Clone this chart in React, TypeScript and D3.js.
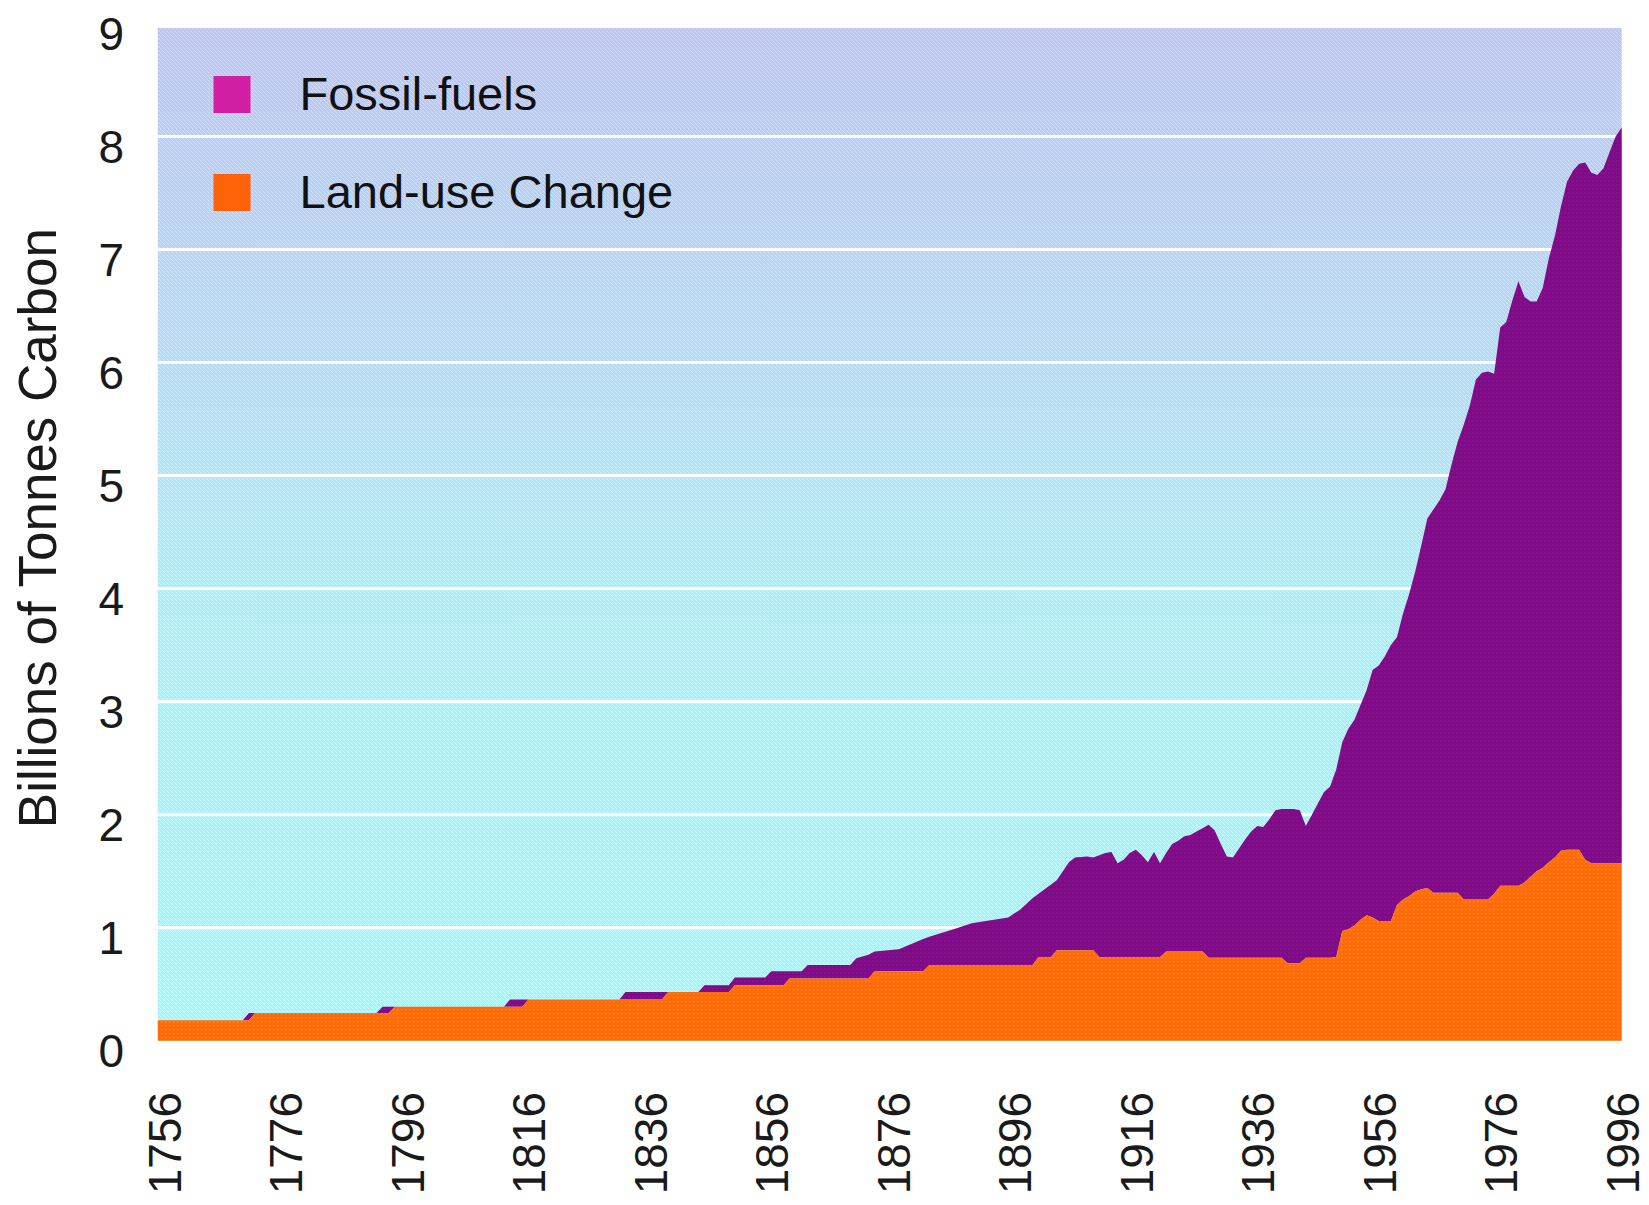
import React from 'react';
import * as d3 from 'd3';

const years = [
  1755, 1769, 1770, 1771, 1791, 1792, 1793, 1794, 1812, 1813,
  1815, 1816, 1831, 1832, 1838, 1839, 1844, 1845, 1849, 1850,
  1855, 1856, 1858, 1859, 1861, 1862, 1869, 1870, 1872, 1873,
  1877, 1881, 1882, 1886, 1889, 1895, 1897, 1899, 1900, 1902,
  1903, 1905, 1906, 1908, 1909,
  1910, 1911, 1912, 1913, 1914, 1915, 1916, 1917, 1918, 1919,
  1920, 1921, 1922, 1923, 1924, 1925, 1926, 1927, 1928, 1929,
  1930, 1931, 1932, 1933, 1934, 1935, 1936, 1937, 1938, 1939,
  1940, 1941, 1942, 1943, 1944, 1945, 1946, 1947, 1948, 1949,
  1950, 1951, 1952, 1953, 1954, 1955, 1956, 1957, 1958, 1959,
  1960, 1961, 1962, 1963, 1964, 1965, 1966, 1967, 1968, 1969,
  1970, 1971, 1972, 1973, 1974, 1975, 1976, 1977, 1978, 1979,
  1980, 1981, 1982, 1983, 1984, 1985, 1986, 1987, 1988, 1989,
  1990, 1991, 1992, 1993, 1994, 1995, 1996,
];

const landUse = [
  0.18, 0.18, 0.18, 0.245, 0.245, 0.245, 0.245, 0.3, 0.3, 0.3,
  0.3, 0.365, 0.365, 0.365, 0.365, 0.43, 0.43, 0.43, 0.43, 0.49,
  0.49, 0.49, 0.49, 0.55, 0.55, 0.55, 0.55, 0.55, 0.55, 0.615,
  0.615, 0.615, 0.67, 0.67, 0.67, 0.67, 0.67, 0.67, 0.74, 0.74,
  0.8, 0.8, 0.8, 0.8, 0.8,
  0.74, 0.74, 0.74, 0.74, 0.74, 0.74, 0.74, 0.74, 0.74, 0.74,
  0.74, 0.79, 0.79, 0.79, 0.79, 0.79, 0.79, 0.79, 0.735, 0.735,
  0.735, 0.735, 0.735, 0.735, 0.735, 0.735, 0.735, 0.735, 0.735, 0.735,
  0.735, 0.685, 0.685, 0.685, 0.735, 0.735, 0.735, 0.735, 0.735, 0.74,
  0.97, 0.985, 1.02, 1.07, 1.11, 1.09, 1.06, 1.06, 1.06, 1.2,
  1.25, 1.28, 1.32, 1.34, 1.35, 1.31, 1.31, 1.31, 1.31, 1.31,
  1.25, 1.25, 1.25, 1.25, 1.25, 1.3, 1.37, 1.37, 1.37, 1.37,
  1.4, 1.45, 1.5, 1.53, 1.58, 1.62, 1.68, 1.69, 1.69, 1.69,
  1.6, 1.57, 1.57, 1.57, 1.57, 1.57, 1.57,
];

const fossilFuels = [
  0, 0, 0.065, 0, 0, 0.055, 0.055, 0, 0, 0.065,
  0.065, 0, 0, 0.065, 0.065, 0, 0, 0.06, 0.06, 0.07,
  0.07, 0.125, 0.125, 0.065, 0.065, 0.12, 0.12, 0.18, 0.21, 0.175,
  0.195, 0.285, 0.25, 0.315, 0.37, 0.42, 0.49, 0.59, 0.56, 0.64,
  0.62, 0.78, 0.82, 0.83, 0.82,
  0.9, 0.92, 0.93, 0.83, 0.86, 0.92, 0.95, 0.9, 0.84, 0.93,
  0.83, 0.87, 0.95, 0.98, 1.02, 1.03, 1.06, 1.09, 1.175, 1.125,
  1.005, 0.895, 0.885, 0.965, 1.045, 1.115, 1.165, 1.155, 1.225, 1.305,
  1.315, 1.365, 1.365, 1.355, 1.165, 1.265, 1.365, 1.465, 1.515, 1.66,
  1.67, 1.775, 1.82, 1.9, 1.99, 2.19, 2.26, 2.34, 2.44, 2.37,
  2.53, 2.67, 2.83, 3.04, 3.27, 3.39, 3.47, 3.57, 3.79, 3.99,
  4.2, 4.37, 4.6, 4.66, 4.67, 4.6, 4.94, 4.99, 5.18, 5.35,
  5.18, 5.09, 5.04, 5.13, 5.34, 5.5, 5.7, 5.91, 6.01, 6.07,
  6.17, 6.11, 6.09, 6.15, 6.29, 6.43, 6.51,
];

const yTicks = [0, 1, 2, 3, 4, 5, 6, 7, 8, 9];
const gridValues = [1, 2, 3, 4, 5, 6, 7, 8];
const xTickYears = [1756, 1776, 1796, 1816, 1836, 1856, 1876, 1896, 1916, 1936, 1956, 1976, 1996];
const seriesNames = ['Fossil-fuels', 'Land-use Change'];
const seriesColors = ['#d11ea2', '#ff6208'];
const yAxisTitle = 'Billions of Tonnes Carbon';

export default function App() {
  const W = 1649;
  const H = 1205;
  const left = 157.8;
  const right = 1621.7;
  const bottom = 1040.7;
  const top9 = 23.5;
  const bgTop = 28;
  const font = '"Liberation Sans", Arial, Helvetica, sans-serif';

  const x = d3.scaleLinear().domain([1755, 1996]).range([left, right]);
  const y = d3.scaleLinear().domain([0, 9]).range([bottom, top9]);

  const data = years.map((yr, i) => ({ year: yr, land: landUse[i], fossil: fossilFuels[i] }));
  const stacked = d3.stack<any>().keys(['land', 'fossil'])(data);
  const area = d3
    .area<any>()
    .x((d) => x(d.data.year))
    .y0((d) => y(d[0]))
    .y1((d) => y(d[1]));

  const landPath = area(stacked[0] as any) || '';
  const fossilPath = area(stacked[1] as any) || '';

  return (
    <svg
      width={W}
      height={H}
      style={{ position: 'absolute', left: 0, top: 0, display: 'block', background: '#ffffff' }}
    >
      <defs>
        <linearGradient id="bgGrad" x1="0" y1="0" x2="0" y2="1">
          <stop offset="0" stopColor="#bcc5f4" />
          <stop offset="0.28" stopColor="#b6d8f8" />
          <stop offset="0.55" stopColor="#aeedf9" />
          <stop offset="1" stopColor="#a6f7fa" />
        </linearGradient>
        <pattern id="hatch" width="4" height="4" patternUnits="userSpaceOnUse">
          <path d="M0,0 L4,4" stroke="#ffffff" strokeOpacity="0.35" strokeWidth="1" />
          <rect x="2" y="1" width="1" height="1" fill="#e070e0" fillOpacity="0.2" />
        </pattern>
        <pattern id="purpleTex" width="4" height="4" patternUnits="userSpaceOnUse">
          <rect x="0" y="0" width="2" height="2" fill="#b020a0" fillOpacity="0.22" />
        </pattern>
        <pattern id="orangeTex" width="4" height="4" patternUnits="userSpaceOnUse">
          <rect x="1" y="1" width="1.5" height="1.5" fill="#ffd000" fillOpacity="0.35" />
        </pattern>
      </defs>

      {/* plot background */}
      <rect x={left} y={bgTop} width={right - left} height={bottom - bgTop} fill="url(#bgGrad)" />
      <rect x={left} y={bgTop} width={right - left} height={bottom - bgTop} fill="url(#hatch)" />

      {/* gridlines */}
      {gridValues.map((v) => (
        <line key={v} x1={left} x2={right} y1={y(v)} y2={y(v)} stroke="#ffffff" strokeWidth={3} />
      ))}

      {/* stacked areas */}
      <path d={fossilPath} fill="#7e0c86" />
      <path d={fossilPath} fill="url(#purpleTex)" />
      <path d={landPath} fill="#ff6a0a" />
      <path d={landPath} fill="url(#orangeTex)" />

      {/* y tick labels */}
      {yTicks.map((v) => (
        <text
          key={v}
          x={124}
          y={y(v) + 10}
          textAnchor="end"
          dominantBaseline="central"
          fontFamily={font}
          fontSize={46}
          fill="#1a1a1a"
        >
          {v}
        </text>
      ))}

      {/* y axis title */}
      <text
        transform={`translate(37,${(y(0) + y(9)) / 2 - 4}) rotate(-90)`}
        textAnchor="middle"
        dominantBaseline="central"
        fontFamily={font}
        fontSize={53}
        fill="#1a1a1a"
      >
        {yAxisTitle}
      </text>

      {/* x tick labels */}
      {xTickYears.map((yr) => (
        <text
          key={yr}
          transform={`translate(${x(yr) + 1},${1092}) rotate(-90)`}
          textAnchor="end"
          dominantBaseline="central"
          fontFamily={font}
          fontSize={46}
          fill="#1a1a1a"
        >
          {yr}
        </text>
      ))}

      {/* legend */}
      {seriesNames.map((name, i) => (
        <g key={name} transform={`translate(213.5,${76 + i * 98})`}>
          <rect x={0} y={0} width={37} height={37} fill={seriesColors[i]} />
          <text x={86} y={34} fontFamily={font} fontSize={47} fill="#111111">
            {name}
          </text>
        </g>
      ))}
    </svg>
  );
}
